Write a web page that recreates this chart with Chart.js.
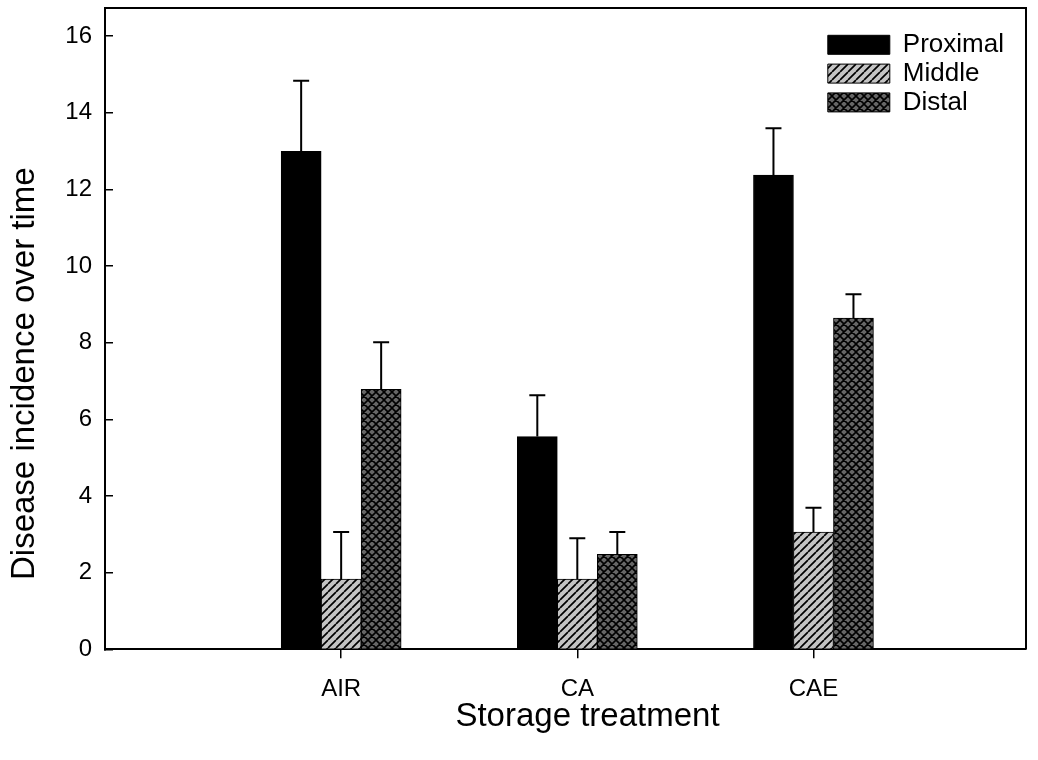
<!DOCTYPE html>
<html lang="en">
  <head>
    <meta charset="UTF-8" />
    <title>Disease incidence by storage treatment</title>
    <style>
      body { margin: 0; background: #fff; }
    </style>
  </head>
  <body>
    <canvas id="myChart" width="1038" height="760"></canvas>
    <script src="https://cdn.jsdelivr.net/npm/chart.js"></script>
    <script>
      // storage treatments sit at x = 1, 2, 3 on a linear axis
      const treatments = ["AIR", "CA", "CAE"];
      const positions = [1, 2, 3];

      const proximal = [12.99, 5.55, 12.37];
      const proximalErr = [1.84, 1.08, 1.22];
      const middle = [1.83, 1.83, 3.06];
      const middleErr = [1.23, 1.07, 0.63];
      const distal = [6.78, 2.48, 8.64];
      const distalErr = [1.23, 0.58, 0.62];

      const yTicks = [0, 2, 4, 6, 8, 10, 12, 14, 16];

      const xTitle = "Storage treatment";
      const yTitle = "Disease incidence over time";

      const fontFamily = "Arial, 'Liberation Sans', sans-serif";
      Chart.defaults.font.family = fontFamily;
      Chart.defaults.color = "#000";

      const canvas = document.getElementById("myChart");
      const ctx = canvas.getContext("2d");

      // diagonal hatch fills, "/" lines and optional "\" lines on top
      const hatch = (size, bg, cross, lw) => {
        const tile = document.createElement("canvas");
        tile.width = tile.height = size;
        const g = tile.getContext("2d");
        g.fillStyle = bg;
        g.fillRect(0, 0, size, size);
        g.strokeStyle = "#000";
        g.lineWidth = lw;
        g.beginPath();
        for (const o of [-size, 0, size]) {
          g.moveTo(o, size);
          g.lineTo(o + size, 0);
          if (cross) {
            g.moveTo(o, 0);
            g.lineTo(o + size, size);
          }
        }
        g.stroke();
        return ctx.createPattern(tile, "repeat");
      };

      const points = (vals) => positions.map((x, i) => ({ x: x, y: vals[i] }));

      // upper error bars with a short cap
      const errorBars = {
        id: "errorBars",
        afterDatasetsDraw(chart) {
          const c = chart.ctx;
          const yScale = chart.scales.y;
          c.save();
          c.strokeStyle = "#000";
          c.lineWidth = 2;
          chart.data.datasets.forEach((ds, i) => {
            chart.getDatasetMeta(i).data.forEach((bar, j) => {
              const top = yScale.getPixelForValue(ds.data[j].y + ds.errors[j]);
              c.beginPath();
              c.moveTo(bar.x, bar.y);
              c.lineTo(bar.x, top);
              c.moveTo(bar.x - 8, top);
              c.lineTo(bar.x + 8, top);
              c.stroke();
            });
          });
          c.restore();
        },
      };

      // top and right sides of the plot box, plus the two axis titles
      const frame = {
        id: "frame",
        afterDraw(chart) {
          const { left, top, right, bottom } = chart.chartArea;
          const c = chart.ctx;
          c.save();
          c.strokeStyle = "#000";
          c.lineWidth = 2;
          c.beginPath();
          c.moveTo(left, top);
          c.lineTo(right, top);
          c.lineTo(right, bottom);
          c.stroke();

          c.fillStyle = "#000";
          c.font = "33px " + fontFamily;
          c.textAlign = "center";
          c.textBaseline = "middle";
          c.fillText(xTitle, (left + right) / 2 + 22, 717);
          c.translate(25, (top + bottom) / 2 + 45);
          c.rotate(-Math.PI / 2);
          c.fillText(yTitle, 0, 0);
          c.restore();
        },
      };

      // legend lives inside the plot, upper right
      const legendSpot = {
        id: "legendSpot",
        afterLayout(chart) {
          chart.legend.left = 825;
          chart.legend.top = 29;
        },
      };

      new Chart(canvas, {
        type: "bar",
        data: {
          datasets: [
            {
              label: "Proximal",
              data: points(proximal),
              errors: proximalErr,
              backgroundColor: "#000",
            },
            {
              label: "Middle",
              data: points(middle),
              errors: middleErr,
              backgroundColor: hatch(8, "#c4c4c4", false, 1.7),
            },
            {
              label: "Distal",
              data: points(distal),
              errors: distalErr,
              backgroundColor: hatch(8, "#666666", true, 1.6),
            },
          ],
        },
        options: {
          responsive: false,
          animation: false,
          barThickness: 40,
          borderColor: "#000",
          borderWidth: 1,
          layout: { padding: { top: 8, right: 12, left: 0, bottom: 0 } },
          plugins: {
            tooltip: { enabled: false },
            legend: {
              position: "chartArea",
              align: "start",
              labels: {
                boxWidth: 62,
                boxHeight: 19,
                padding: 2.8,
                color: "#000",
                font: { size: 26 },
              },
            },
          },
          scales: {
            x: {
              type: "linear",
              min: 0,
              max: 3.9,
              offset: false,
              afterFit: (s) => {
                s.height = 110.7;
                s.paddingLeft = 0;
                s.paddingRight = 0;
              },
              afterBuildTicks: (s) => { s.ticks = positions.map((v) => ({ value: v })); },
              border: { color: "#000", width: 2 },
              grid: { offset: false, drawOnChartArea: false, color: "#000", lineWidth: 1.5, tickLength: 9 },
              ticks: {
                padding: 17,
                font: { size: 24 },
                callback: (v, i) => treatments[i],
              },
            },
            y: {
              min: 0,
              max: 16.73,
              afterFit: (s) => {
                s.width = 105;
                s.paddingTop = 0;
                s.paddingBottom = 0;
              },
              afterBuildTicks: (s) => { s.ticks = yTicks.map((v) => ({ value: v })); },
              border: { color: "#000", width: 2 },
              grid: { drawOnChartArea: false, color: "#000", lineWidth: 1.5, tickLength: -8 },
              ticks: { padding: 21, font: { size: 24 } },
            },
          },
        },
        plugins: [errorBars, frame, legendSpot],
      });
    </script>
  </body>
</html>
